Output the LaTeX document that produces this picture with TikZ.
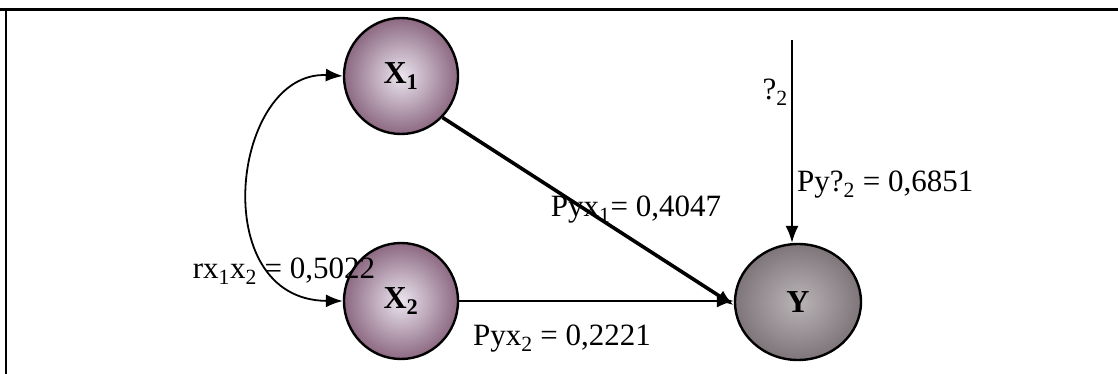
\documentclass[tikz,border=0pt]{standalone}
\usepackage{fontspec}
\setmainfont{Liberation Serif}
\usepackage{xcolor}
\usepackage{tikz}
\usetikzlibrary{positioning,shapes.geometric,arrows.meta}

\definecolor{lilac}{RGB}{205,190,215}
\definecolor{plum}{RGB}{140,105,130}
\definecolor{ashy}{RGB}{140,130,135}

\begin{document}
\begin{tikzpicture}[x=1pt, y=-1pt,
  var/.style={ellipse, draw, line width=2.4pt, minimum width=114pt, minimum height=116pt,
    inner color=lilac!40, outer color=plum, font=\fontsize{32}{34}\selectfont\bfseries},
  lab/.style={font=\fontsize{31}{34}\selectfont, inner sep=1pt},
  path/.style={-{Latex[length=17pt,width=13pt]}, line width=1.8pt}]
  \useasboundingbox (0,0) rectangle (1118,374);
  \draw[line width=3pt] (0,10) -- (1118,10);
  \draw[line width=1.2pt] (6,10) -- (6,374);

  \node[var] (x1) at (401,76) {X\textsubscript{1}};
  \node[var] (x2) at (401,301) {X\textsubscript{2}};
  \node[var, minimum width=126pt, inner color=ashy!60, outer color=ashy!90!black] (y) at (798,302) {Y};
  \coordinate (e2) at (792,40);

  \draw[path, line width=3.6pt] (x1.-45) -- (y.183);
  \draw[path] (x2.east) -- (x2.east -| y.west);
  \draw[path] (e2) -- (e2 |- y.north);
  \draw[{Latex[length=17pt,width=13pt]}-{Latex[length=17pt,width=13pt]}, line width=1.8pt]
    (x1.west) .. controls (232,70) and (205,300) .. (x2.west);

  \node[lab, anchor=east] at (789,92) {?\textsubscript{2}};
  \node[lab, anchor=west] at (796,185) {Py?\textsubscript{2} = 0,6851};
  \node[lab] at (636,210) {Pyx\textsubscript{1}= 0,4047};
  \node[lab] at (284,271) {rx\textsubscript{1}x\textsubscript{2} = 0,5022};
  \node[lab] at (562,339) {Pyx\textsubscript{2} = 0,2221};
\end{tikzpicture}
\end{document}
